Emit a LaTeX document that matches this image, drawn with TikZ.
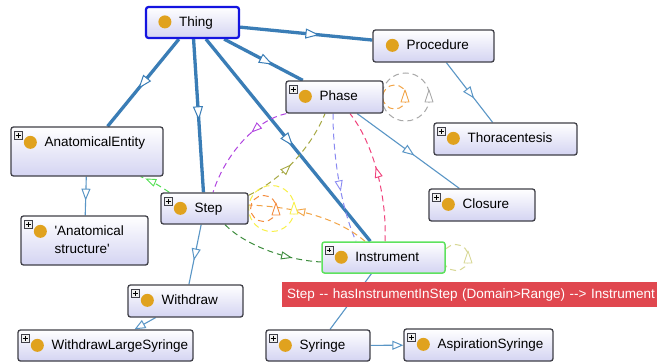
\documentclass[tikz,border=0pt]{standalone}
\usepackage{fontspec}
\newfontfamily\uifont{Liberation Sans}
\usetikzlibrary{arrows.meta,decorations.markings}

\definecolor{isa}{HTML}{3A7DB6}
\definecolor{isathin}{HTML}{5A96C6}
\definecolor{frame}{HTML}{404048}
\definecolor{fillbot}{HTML}{D4D4F2}
\definecolor{gold}{HTML}{E0A21E}
\definecolor{thingblue}{HTML}{1414E0}
\definecolor{instrgreen}{HTML}{5EE25E}
\definecolor{tipred}{HTML}{E0474F}
\definecolor{cpurple}{HTML}{B044E0}
\definecolor{colive}{HTML}{A6A842}
\definecolor{clavender}{HTML}{8A8AF2}
\definecolor{cpink}{HTML}{F0427C}
\definecolor{corange}{HTML}{F2A446}
\definecolor{cdkgreen}{HTML}{3C8C3C}
\definecolor{cltgreen}{HTML}{52E052}
\definecolor{cgray}{HTML}{A8A8A8}
\definecolor{cyellow}{HTML}{F8F048}
\definecolor{cpale}{HTML}{D8D896}

\pgfdeclarelayer{bg}
\pgfdeclarelayer{links}
\pgfsetlayers{bg,links,main}

\tikzset{
  x=1pt, y=-1pt,
  every node/.style={font=\uifont\fontsize{13.5}{18}\selectfont},
  cls/.style={draw=frame, line width=1.3pt, rounded corners=2.5pt,
    top color=white, bottom color=fillbot, inner sep=0},
  thingframe/.style={draw=thingblue, line width=2.2pt},
  instrframe/.style={draw=instrgreen, line width=1.5pt},
  dot/.style={circle, fill=gold, minimum size=13pt, inner sep=0},
  lbl/.style={anchor=base west, inner sep=0, align=left},
  plusbox/.style={draw=frame, fill=gray!12, line width=0.5pt,
    minimum size=8pt, inner sep=0,
    path picture={\draw[line width=0.8pt,black]
      ([xshift=1.6pt]path picture bounding box.west) --
      ([xshift=-1.6pt]path picture bounding box.east)
      ([yshift=-1.6pt]path picture bounding box.north) --
      ([yshift=1.6pt]path picture bounding box.south);}},
  isathick/.style={draw=isa, line width=3.3pt,
    decoration={markings, mark=at position #1 with
      {\arrow{Triangle[fill=white,length=14pt,width=10pt,line width=1pt]}}},
    postaction={decorate}},
  isathin/.style={draw=isathin, line width=1.1pt,
    decoration={markings, mark=at position #1 with
      {\arrow{Triangle[fill=white,length=12pt,width=9pt,line width=1pt]}}},
    postaction={decorate}},
  isaend/.style={draw=isathin, line width=1.1pt,
    -{Triangle[fill=white,length=11pt,width=9pt,line width=1pt]}},
  prop/.style={dash pattern=on 6pt off 4pt, line width=1pt,
    decoration={markings, mark=at position #1 with
      {\arrow{Triangle[fill=white,length=11pt,width=8pt,line width=0.9pt]}}},
    postaction={decorate}},
  selfloop/.style={dash pattern=on 6pt off 4pt, line width=1pt},
  looptip/.style={fill=white, line width=0.9pt, line join=round},
  tiplabel/.style={fill=tipred, text=white, anchor=north west,
    minimum height=25pt, text width=400pt, align=left,
    inner xsep=5pt, inner ysep=0pt}
}

% class box with its dot and caption
\newcommand\classnode[7][]{%
  \node[cls,#1,minimum width=#5pt,minimum height=#6pt] (#2) at (#3,#4) {};
  \node[dot] (#2-dot) at ([shift={(20pt,-16pt)}]#2.north west) {};
  \node[lbl] (#2-text) at ([shift={(34pt,-20.6pt)}]#2.north west) {#7};
}
% small expander square in the upper left corner
\newcommand\expander[1]{%
  \node[plusbox,anchor=north west] (#1-plus) at ([shift={(3.5pt,-4.5pt)}]#1.north west) {};
}
% upward pointing tip drawn on a self loop
\newcommand\uptip[3]{%
  \draw[looptip,draw=#3] (#1,#2-7) -- (#1+4,#2+5) -- (#1-4,#2+5) -- cycle;
}

\begin{document}
\begin{tikzpicture}
\begin{pgfonlayer}{bg}
  \fill[white] (0,0) rectangle (657,362);
\end{pgfonlayer}
\useasboundingbox (0,0) rectangle (657,362);

% classes
\classnode[thingframe]{thing}{192.5}{22.5}{93}{31}{Thing}
\classnode{procedure}{433.5}{46}{121}{32}{Procedure}
\classnode{phase}{334.5}{97}{97}{32}{Phase}
\classnode{thoracentesis}{505.5}{139}{143}{32}{Thoracentesis}
\classnode{anatomical}{87}{151.5}{152}{49}{AnatomicalEntity}
\node[cls,minimum width=127pt,minimum height=49pt] (structure) at (84.5,240.5) {};
\node[dot] (structure-dot) at ([shift={(20pt,-16pt)}]structure.north west) {};
\node[lbl] (structure-text) at ([shift={(34pt,-38.6pt)}]structure.north west)
  {'Anatomical\\structure'};
\classnode{step}{204.5}{208.5}{87}{31}{Step}
\classnode{closure}{482}{205}{106}{32}{Closure}
\classnode[instrframe]{instrument}{383.5}{257.5}{123}{31}{Instrument}
\classnode{withdraw}{185.5}{301}{115}{32}{Withdraw}
\classnode{largesyringe}{105.5}{345.5}{175}{31}{WithdrawLargeSyringe}
\classnode{syringe}{318}{345.5}{104}{31}{Syringe}
\classnode{aspiration}{478.5}{345}{149}{32}{AspirationSyringe}

\foreach \n in {phase,thoracentesis,anatomical,structure,step,closure,
  instrument,withdraw,largesyringe,syringe,aspiration} {\expander{\n}}

\begin{pgfonlayer}{links}
  % subclass links
  \draw[isathick=0.57] (thing) -- (anatomical);
  \draw[isathick=0.53] (thing) -- (step);
  \draw[isathick=0.53] (thing) -- (instrument);
  \draw[isathick=0.62] (thing) -- (phase);
  \draw[isathick=0.6] (thing) -- (procedure);
  \draw[isathin=0.6] (procedure) -- (thoracentesis);
  \draw[isathin=0.56] (phase) -- (closure);
  \draw[isathin=0.62] (anatomical) -- (structure);
  \draw[isathin=0.6] (step) -- (withdraw);
  \draw[isaend] (withdraw) -- (largesyringe);
  \draw[isathin=0.5] (instrument) -- (syringe);
  \draw[isaend] (syringe) -- (aspiration);

  % object properties
  \draw[prop=0.36, draw=cpurple] ([xshift=1pt]phase.south west)
    .. controls (255,120) and (225,155) .. ([xshift=8.5pt]step.north);
  \draw[prop=0.46, draw=colive] ([yshift=-3pt]step.north east)
    .. controls (280,180) and (310,150) .. ([xshift=-9.5pt]phase.south);
  \draw[prop=0.6, draw=clavender] ([xshift=-1.5pt]phase.south)
    .. controls (333,160) and (342,210) .. ([xshift=-27.5pt]instrument.north);
  \draw[prop=0.56, draw=cpink] ([xshift=1.5pt]instrument.north)
    .. controls (387,200) and (375,145) .. ([xshift=15.5pt]phase.south);
  \draw[prop=0.63, draw=corange] ([xshift=-18.5pt]instrument.north)
    .. controls (340,220) and (300,207) .. ([yshift=3.5pt]step.east);
  \draw[prop=0.72, draw=cdkgreen] ([xshift=20.5pt]step.south)
    .. controls (245,245) and (285,260) .. ([yshift=-4.5pt]instrument.west);
  \draw[prop=0.85, draw=cltgreen] ([xshift=9pt]step.north west)
    .. controls (160,186) and (150,180) .. ([xshift=-23pt]anatomical.south east);

  % self loops
  \draw[selfloop, draw=cgray] ([xshift=22pt]phase.east) circle (24);
  \draw[selfloop, draw=corange] ([xshift=11pt]phase.east) circle (12);
  \uptip{429}{97}{cgray}
  \uptip{405}{97}{corange}
  \draw[selfloop, draw=cyellow] ([xshift=23pt]step.east) circle (23);
  \draw[selfloop, draw=corange!85!red] ([xshift=15pt]step.east) circle (13);
  \uptip{294}{209}{cyellow}
  \uptip{276}{210}{corange!85!red}
  \draw[selfloop, draw=cpale] ([xshift=10pt]instrument.east) circle (13);
  \uptip{468}{258}{cpale}
\end{pgfonlayer}

% hover caption of the green link
\node[tiplabel] (caption) at (282,282)
  {Step -- hasInstrumentInStep (Domain>Range) --> Instrument};
\end{tikzpicture}
\end{document}
